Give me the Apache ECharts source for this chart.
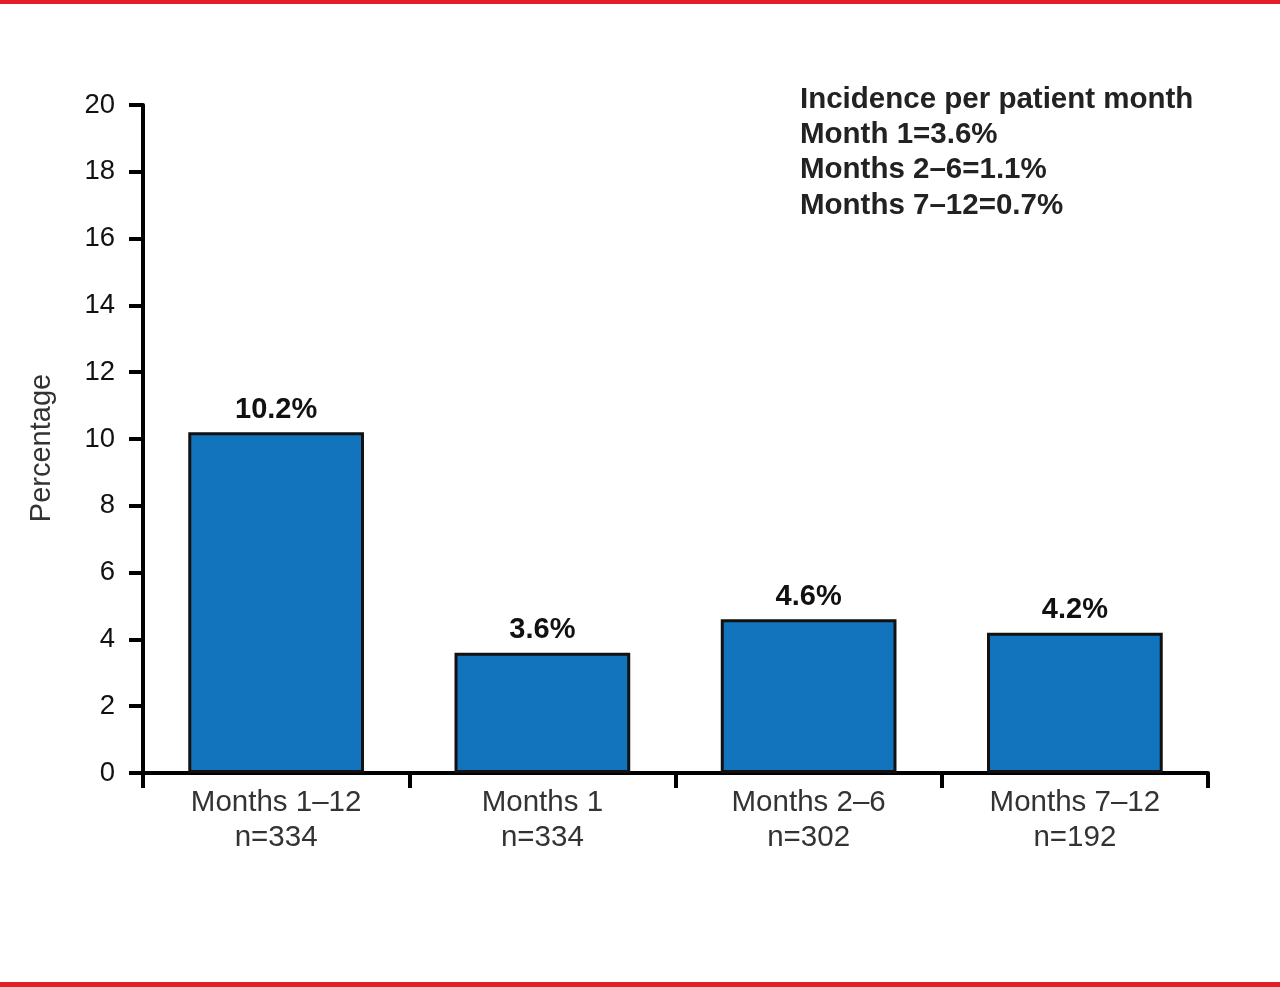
<!DOCTYPE html>
<html><head><meta charset="utf-8">
<script src="https://cdn.jsdelivr.net/npm/echarts@6/dist/echarts.min.js"></script>
<style>html,body{margin:0;padding:0;background:#fff}#c{width:1280px;height:987px}</style>
</head><body><div id="c"></div>
<script>
const categories = ['Months 1\u201312\nn=334', 'Months 1\nn=334', 'Months 2\u20136\nn=302', 'Months 7\u201312\nn=192'];
const values = [10.2, 3.6, 4.6, 4.2];
const yTicks = {min: 0, max: 20, interval: 2};
const yTitle = 'Percentage';
const noteLines = ['Incidence per patient month', 'Month 1=3.6%', 'Months 2\u20136=1.1%', 'Months 7\u201312=0.7%'];

const chart = echarts.init(document.getElementById('c'), null, {renderer: 'canvas'});
const font = "'Liberation Sans', Arial, Helvetica, sans-serif";
chart.setOption({
  animation: false,
  backgroundColor: '#fff',
  grid: {left: 143, right: 72, top: 105, bottom: 214, containLabel: false},
  xAxis: {
    type: 'category', data: categories,
    axisLine: {lineStyle: {color: '#000', width: 4}},
    axisTick: {show: true, length: 15, lineStyle: {color: '#000', width: 4}},
    axisLabel: {color: '#333', fontSize: 29.5, fontFamily: font, lineHeight: 35, margin: 12}
  },
  yAxis: {
    type: 'value', min: yTicks.min, max: yTicks.max, interval: yTicks.interval,
    axisLine: {show: true, lineStyle: {color: '#000', width: 4}},
    axisTick: {show: true, length: 14, lineStyle: {color: '#000', width: 4}},
    splitLine: {show: false},
    axisLabel: {color: '#111', fontSize: 27.5, fontFamily: font, margin: 28}
  },
  series: [{
    type: 'bar', data: values, barWidth: '66%',
    itemStyle: {color: '#1374BE', borderColor: '#111', borderWidth: 3},
    label: {show: true, position: 'top', distance: 8, formatter: p => p.value.toFixed(1) + '%',
      color: '#111', fontSize: 29, fontWeight: 'bold', fontFamily: font}
  }],
  graphic: [
    {type: 'rect', left: 0, top: 0, shape: {width: 1280, height: 4}, style: {fill: '#E31E26'}},
    {type: 'rect', left: 0, top: 982, shape: {width: 1280, height: 5}, style: {fill: '#E31E26'}},
    {type: 'text', x: 42, y: 448, rotation: Math.PI / 2, style: {text: yTitle, fill: '#333', fontSize: 29,
      fontFamily: font, align: 'center', verticalAlign: 'middle'}},
    {type: 'text', left: 800, top: 82, style: {text: noteLines.join('\n'), fill: '#222', fontSize: 29.5,
      fontWeight: 'bold', fontFamily: font, lineHeight: 35.3}}
  ]
});
</script></body></html>
